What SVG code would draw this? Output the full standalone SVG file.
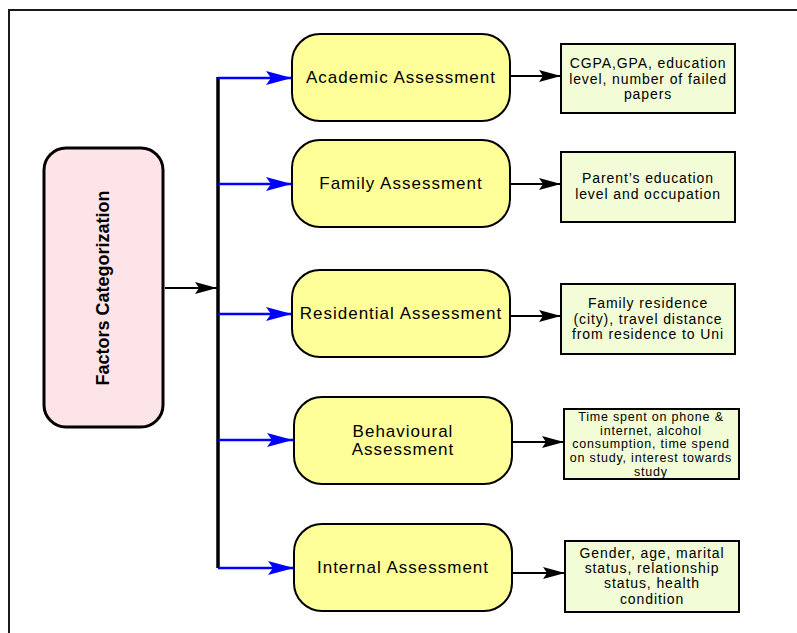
<svg xmlns="http://www.w3.org/2000/svg" width="797" height="633" viewBox="0 0 797 633">
<defs>
<style>
.frame{fill:none;stroke:#1a1a1a;stroke-width:2}
.main{fill:#fce4e8;stroke:#000;stroke-width:3}
.cat{fill:#ffff99;stroke:#000;stroke-width:2}
.det{fill:#f2fcd6;stroke:#000;stroke-width:2}
.t{font-family:"Liberation Sans",Arial,sans-serif;fill:#000;text-anchor:middle}
.t15{font-size:17px;letter-spacing:1px}
.t13{font-size:14px;letter-spacing:0.9px}
.t12{font-size:12.5px;letter-spacing:0.8px}
.bl{stroke:#0000ff;stroke-width:2.5;fill:none}
.bk{stroke:#000;stroke-width:2;fill:none}
</style>
<marker id="ab" markerWidth="26" markerHeight="14" refX="26" refY="7" orient="auto" markerUnits="userSpaceOnUse"><path d="M0,0 L26,7 L0,14 L5,7 Z" fill="#0000ff"/></marker>
<marker id="ak" markerWidth="22" markerHeight="12" refX="22" refY="6" orient="auto" markerUnits="userSpaceOnUse"><path d="M0,0 L22,6 L0,12 L4,6 Z" fill="#000"/></marker>
</defs>
<rect x="0" y="0" width="797" height="633" fill="#fff"/>
<path class="frame" d="M9,640 L9,10 L800,10"/>

<g id="connectors">
<line x1="218" y1="77" x2="218" y2="568" stroke="#000" stroke-width="3.5"/>
<line class="bk" x1="165" y1="288" x2="217" y2="288" marker-end="url(#ak)"/>
<line class="bl" x1="218" y1="78" x2="292" y2="78" marker-end="url(#ab)"/>
<line class="bl" x1="218" y1="184" x2="292" y2="184" marker-end="url(#ab)"/>
<line class="bl" x1="218" y1="314" x2="292" y2="314" marker-end="url(#ab)"/>
<line class="bl" x1="218" y1="440" x2="293" y2="440" marker-end="url(#ab)"/>
<line class="bl" x1="218" y1="568" x2="294" y2="568" marker-end="url(#ab)"/>
<line class="bk" x1="510" y1="76" x2="561" y2="76" marker-end="url(#ak)"/>
<line class="bk" x1="510" y1="184" x2="561" y2="184" marker-end="url(#ak)"/>
<line class="bk" x1="510" y1="316" x2="561" y2="316" marker-end="url(#ak)"/>
<line class="bk" x1="512" y1="442" x2="564" y2="442" marker-end="url(#ak)"/>
<line class="bk" x1="512" y1="573" x2="565" y2="573" marker-end="url(#ak)"/>
</g>

<g id="factors">
<rect class="main" x="44" y="148" width="119" height="279" rx="22"/>
<text class="t" font-size="18" font-weight="bold" transform="translate(109,288) rotate(-90)">Factors Categorization</text>
</g>

<g id="academic">
<rect class="cat" x="292" y="34" width="218" height="87" rx="28"/>
<text class="t t15" x="401" y="83">Academic Assessment</text>
</g>
<g id="family">
<rect class="cat" x="292" y="140" width="218" height="87" rx="28"/>
<text class="t t15" x="401" y="189">Family Assessment</text>
</g>
<g id="residential">
<rect class="cat" x="292" y="270" width="218" height="87" rx="28"/>
<text class="t t15" x="401" y="319">Residential Assessment</text>
</g>
<g id="behavioural">
<rect class="cat" x="294" y="397" width="218" height="87" rx="28"/>
<text class="t t15" x="403" y="437">Behavioural</text>
<text class="t t15" x="403" y="455">Assessment</text>
</g>
<g id="internal">
<rect class="cat" x="294" y="524" width="218" height="87" rx="28"/>
<text class="t t15" x="403" y="573">Internal Assessment</text>
</g>

<g id="academic-details">
<rect class="det" x="561" y="44" width="174" height="69"/>
<text class="t t13" x="648" y="68">CGPA,GPA, education</text>
<text class="t t13" x="648" y="84">level, number of failed</text>
<text class="t t13" x="648" y="99">papers</text>
</g>
<g id="family-details">
<rect class="det" x="561" y="152" width="174" height="70"/>
<text class="t t13" x="648" y="183">Parent’s education</text>
<text class="t t13" x="648" y="199">level and occupation</text>
</g>
<g id="residential-details">
<rect class="det" x="561" y="284" width="174" height="70"/>
<text class="t t13" x="648" y="308">Family residence</text>
<text class="t t13" x="648" y="324">(city), travel distance</text>
<text class="t t13" x="648" y="339">from residence to Uni</text>
</g>
<g id="behavioural-details">
<rect class="det" x="564" y="409" width="175" height="70"/>
<text class="t t12" x="651" y="421">Time spent on phone &amp;</text>
<text class="t t12" x="651" y="435">internet, alcohol</text>
<text class="t t12" x="651" y="448">consumption, time spend</text>
<text class="t t12" x="651" y="462">on study, interest towards</text>
<text class="t t12" x="651" y="476">study</text>
</g>
<g id="internal-details">
<rect class="det" x="565" y="541" width="174" height="71"/>
<text class="t t13" x="652" y="558">Gender, age, marital</text>
<text class="t t13" x="652" y="573">status, relationship</text>
<text class="t t13" x="652" y="588">status, health</text>
<text class="t t13" x="652" y="604">condition</text>
</g>
</svg>
